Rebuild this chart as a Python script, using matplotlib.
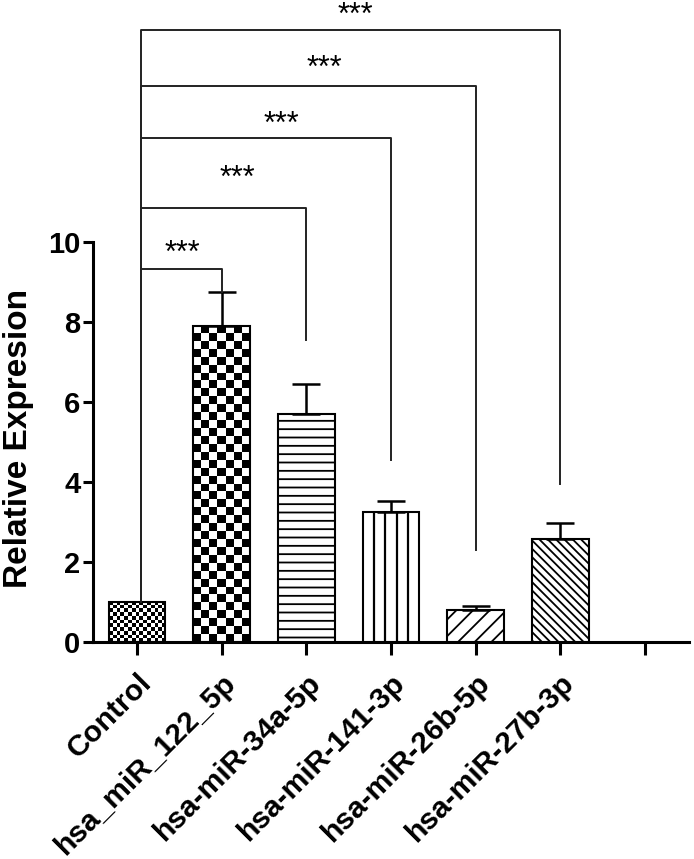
import numpy as np
import matplotlib
matplotlib.use("Agg")
import matplotlib.pyplot as plt

plt.rcParams['font.family'] = ['Liberation Sans', 'DejaVu Sans']
plt.rcParams['hatch.linewidth'] = 1.3

# data
categories = ["Control", "hsa_miR_122_5p", "hsa-miR-34a-5p", "hsa-miR-141-3p",
              "hsa-miR-26b-5p", "hsa-miR-27b-3p", ""]
means = [1.0, 7.9, 5.7, 3.25, 0.8, 2.58]
sem = [0.0, 0.86, 0.75, 0.28, 0.11, 0.40]
hatches = [None, None, "--", None, "//", "\\\\\\\\"]

# significance brackets: Control vs each miRNA
bracket_to = [1, 2, 3, 4, 5]
bracket_level = [9.33, 10.85, 12.6, 13.9, 15.3]
bracket_bottom = [8.76, 7.55, 4.55, 2.3, 3.95]
star_labels = ["***", "***", "***", "***", "***"]
star_x = [0.53, 1.18, 1.70, 2.21, 2.58]
star_y = [9.5, 11.37, 12.72, 14.12, 15.45]

width = 0.67
x = np.arange(len(means))

fig = plt.figure(figsize=(6.94, 8.59), dpi=100)
ax = fig.add_axes([0.134, 0.2526, 0.8588, 0.4657])

bars = ax.bar(x, means, width, color="white", edgecolor="black",
              linewidth=1.5, zorder=3)
for b, h in zip(bars, hatches):
    if h:
        b.set_hatch(h)

# vertical stripes for miR-141 (4 inner lines)
x0 = bars[3].get_x()
ax.vlines([x0 + width * k / 5 for k in range(1, 5)], 0, means[3],
          color="black", linewidth=1.6, zorder=3.5)


def checker(bar, ncols, sq_h):
    h = bar.get_height()
    nrows = max(1, int(round(h / sq_h)))
    img = np.add.outer(np.arange(nrows), np.arange(ncols)) % 2
    bx = bar.get_x()
    im = ax.imshow(img, cmap="gray", vmin=0, vmax=1, origin="lower",
                   extent=(bx, bx + bar.get_width(), 0, h), aspect="auto",
                   interpolation="nearest", zorder=2.5)
    im.set_clip_path(bar)


checker(bars[0], 15, 0.095)
checker(bars[1], 7, 0.2)
for b in bars[:2]:
    b.set_facecolor("none")

ax.errorbar(x[1:], means[1:], yerr=[np.zeros(5), sem[1:]], fmt="none",
            ecolor="black", elinewidth=1.8, capsize=10, capthick=1.8, zorder=4)

left_x = 0.05
for i, j in enumerate(bracket_to):
    ax.plot([left_x, left_x, j, j],
            [means[0], bracket_level[i], bracket_level[i], bracket_bottom[i]],
            color="#222222", linewidth=1.4, clip_on=False, zorder=5)
    ax.text(star_x[i], star_y[i], star_labels[i], ha="center", va="baseline",
            fontsize=22, clip_on=False)

ax.set_xlim(-0.52, 6.52)
ax.set_ylim(0, 10)
ax.set_yticks([0, 2, 4, 6, 8, 10])
ax.set_xticks(np.arange(len(categories)))
ax.set_xticklabels(categories, rotation=45, ha="right", va="top",
                   rotation_mode="anchor", fontsize=21.5, fontweight="bold")
for lab in ax.get_yticklabels():
    lab.set_fontsize(21)
    lab.set_fontweight("bold")

for s in ["top", "right"]:
    ax.spines[s].set_visible(False)
for s in ["left", "bottom"]:
    ax.spines[s].set_linewidth(2.2)
ax.tick_params(axis="both", width=2.2, length=7, direction="out")
ax.tick_params(axis="x", length=9, pad=10)
ax.tick_params(axis="y", pad=2)

fig.text(19 / 694, 1 - 438 / 859, "Relative Expresion", rotation=90,
         ha="center", va="center", fontsize=24, fontweight="bold")

fig.savefig("out.png", dpi=100)
